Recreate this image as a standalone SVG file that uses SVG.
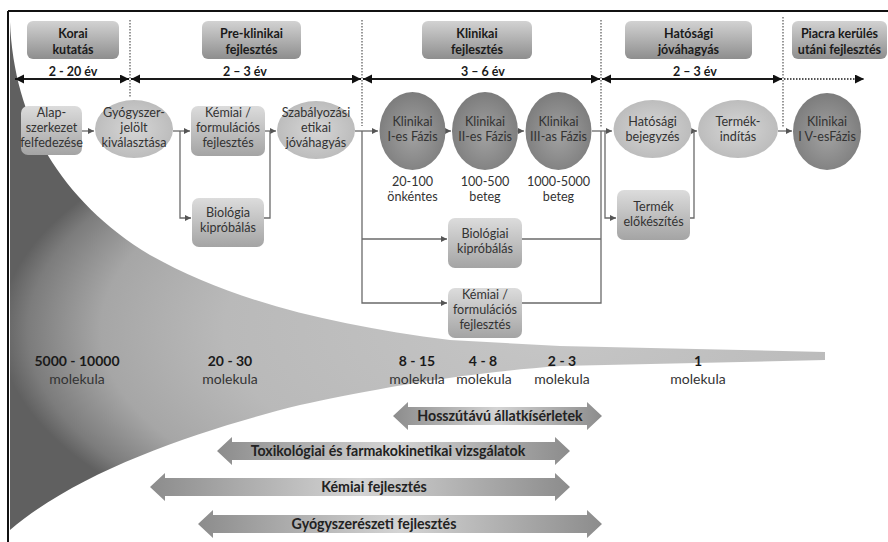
<svg xmlns="http://www.w3.org/2000/svg" width="888" height="542" viewBox="0 0 888 542">
<defs>
  <radialGradient id="gFunnel" gradientUnits="userSpaceOnUse" cx="560" cy="330" r="560" gradientTransform="translate(560 330) scale(1 0.45) translate(-560 -330)">
    <stop offset="0" stop-color="#c6c6c6"/>
    <stop offset="0.6" stop-color="#b9b9b9"/>
    <stop offset="0.82" stop-color="#a6a6a6"/>
    <stop offset="0.95" stop-color="#7c7c7c"/>
    <stop offset="1" stop-color="#606060"/>
  </radialGradient>
  <linearGradient id="gHead" x1="0" y1="0" x2="0" y2="1">
    <stop offset="0" stop-color="#d2d2d2"/>
    <stop offset="1" stop-color="#8e8e8e"/>
  </linearGradient>
  <linearGradient id="gBox" x1="0" y1="0" x2="0" y2="1">
    <stop offset="0" stop-color="#dcdcdc"/>
    <stop offset="1" stop-color="#a4a4a4"/>
  </linearGradient>
  <radialGradient id="gLight" cx="0.5" cy="0.5" r="0.55">
    <stop offset="0" stop-color="#d6d6d6"/>
    <stop offset="1" stop-color="#bababa"/>
  </radialGradient>
  <radialGradient id="gDark" cx="0.5" cy="0.55" r="0.55">
    <stop offset="0" stop-color="#a2a2a2"/>
    <stop offset="1" stop-color="#7c7c7c"/>
  </radialGradient>
  <linearGradient id="gArrow" x1="0" y1="0" x2="1" y2="0">
    <stop offset="0" stop-color="#8c8c8c"/>
    <stop offset="0.5" stop-color="#d4d4d4"/>
    <stop offset="1" stop-color="#8c8c8c"/>
  </linearGradient>
  <marker id="ah" markerUnits="userSpaceOnUse" markerWidth="6" markerHeight="6" refX="6" refY="3" orient="auto">
    <path d="M0,0 L6,3 L0,6 z" fill="#555"/>
  </marker>
  <marker id="th" markerUnits="userSpaceOnUse" markerWidth="10" markerHeight="10" refX="9" refY="4.5" orient="auto-start-reverse">
    <path d="M0,0 L9,4.5 L0,9 z" fill="#111"/>
  </marker>
  <style>
    .hd{fill:url(#gHead)}
    .bx{fill:url(#gBox)}
    .el{fill:url(#gLight)}
    .ed{fill:url(#gDark)}
    .ba{fill:url(#gArrow)}
    text{font-family:Lato,"Liberation Sans",sans-serif;text-anchor:middle}
    .ht{font-size:12.5px;font-weight:bold;fill:#1a1a1a}
    .nt{font-size:12.6px;fill:#333}
    .num{font-size:14px;font-weight:bold;fill:#1a1a1a}
    .mol{font-size:14px;fill:#333}
    .at{font-size:14.2px;font-weight:bold;fill:#222}
    .dot{stroke:#555;stroke-width:1.2;stroke-dasharray:1.5 1.5;fill:none}
    .tl{stroke:#1a1a1a;stroke-width:2;fill:none}
    .cn{stroke:#6a6a6a;stroke-width:1.3;fill:none}
  </style>
</defs>

<!-- funnel -->
<path id="funnel" fill="url(#gFunnel)" d="M10,22 C14,120 60,200 150,255 C230,300 330,325 450,340 L560,346 L825,352 L825,360 L560,366 C450,374 360,392 300,405 C200,430 80,470 10,530 Z"/>

<!-- frame -->
<path d="M8,11 H888 M8,11 V542" stroke="#111" stroke-width="2" fill="none"/>

<!-- phase headers -->
<g id="h-korai"><rect class="hd" x="27" y="21" width="92" height="38" rx="6"/><text class="ht" x="73" y="37.5">Korai</text><text class="ht" x="73" y="53.5">kutatás</text></g>
<g id="h-pre"><rect class="hd" x="202" y="21" width="99" height="38" rx="6"/><text class="ht" x="251.5" y="37.5">Pre-klinikai</text><text class="ht" x="251.5" y="53.5">fejlesztés</text></g>
<g id="h-klin"><rect class="hd" x="422" y="21" width="110" height="38" rx="6"/><text class="ht" x="477" y="37.5">Klinikai</text><text class="ht" x="477" y="53.5">fejlesztés</text></g>
<g id="h-hat"><rect class="hd" x="625" y="21" width="127" height="38" rx="6"/><text class="ht" x="688.5" y="37.5">Hatósági</text><text class="ht" x="688.5" y="53.5">jóváhagyás</text></g>
<g id="h-piac"><rect class="hd" x="792" y="21" width="95" height="38" rx="6"/><text class="ht" x="839.5" y="37.5">Piacra kerülés</text><text class="ht" x="839.5" y="53.5">utáni fejlesztés</text></g>

<!-- dotted separators -->
<g id="separators">
  <path class="dot" d="M130,20 V98"/>
  <path class="dot" d="M362,20 V126"/>
  <path class="dot" d="M601,20 V127"/>
  <path class="dot" d="M783,17 V128"/>
</g>

<!-- timeline -->
<g id="timeline">
  <path class="tl" d="M15,79 H129" marker-start="url(#th)" marker-end="url(#th)"/>
  <path class="tl" d="M131,79 H361" marker-start="url(#th)" marker-end="url(#th)"/>
  <path class="tl" d="M363,79 H600" marker-start="url(#th)" marker-end="url(#th)"/>
  <path class="tl" d="M602,79 H782" marker-start="url(#th)" marker-end="url(#th)"/>
  <path d="M784,79 H864" stroke="#1a1a1a" stroke-width="1.5" stroke-dasharray="1.5 1.5" fill="none" marker-end="url(#th)"/>
  <text class="ht" x="73" y="76">2 - 20 év</text>
  <text class="ht" x="245" y="76">2 – 3 év</text>
  <text class="ht" x="483" y="76">3 – 6 év</text>
  <text class="ht" x="695" y="76">2 – 3 év</text>
</g>

<!-- connectors -->
<g id="connectors">
  <path class="cn" d="M82,131 H94" marker-end="url(#ah)"/>
  <path class="cn" d="M173,131 H190" marker-end="url(#ah)"/>
  <path class="cn" d="M180,131 V218 H191" marker-end="url(#ah)"/>
  <path class="cn" d="M265,131 H276" marker-end="url(#ah)"/>
  <path class="cn" d="M264,218 H270 V131"/>
  <path class="cn" d="M355,131 H378" marker-end="url(#ah)"/>
  <path class="cn" d="M362,131 V303 H447" marker-end="url(#ah)"/>
  <path class="cn" d="M362,239 H447" marker-end="url(#ah)"/>
  <path class="cn" d="M445,131 H451" marker-end="url(#ah)"/>
  <path class="cn" d="M518,131 H524" marker-end="url(#ah)"/>
  <path class="cn" d="M592,131 H612" marker-end="url(#ah)"/>
  <path class="cn" d="M522,239 H601"/>
  <path class="cn" d="M522,303 H601 V131"/>
  <path class="cn" d="M605,131 V218 H616" marker-end="url(#ah)"/>
  <path class="cn" d="M691,131 H697" marker-end="url(#ah)"/>
  <path class="cn" d="M690,218 H694 V131"/>
  <path class="cn" d="M778,131 H792" marker-end="url(#ah)"/>
</g>

<!-- nodes -->
<g id="n-alap"><rect class="bx" x="21" y="106" width="61" height="49" rx="7"/><text class="nt" x="51.5" y="117">Alap-</text><text class="nt" x="51.5" y="132">szerkezet</text><text class="nt" x="51.5" y="147">felfedezése</text></g>
<g id="n-gyogy"><ellipse class="el" cx="134" cy="129" rx="39" ry="29"/><text class="nt" x="134" y="117">Gyógyszer-</text><text class="nt" x="134" y="132">jelölt</text><text class="nt" x="134" y="147">kiválasztása</text></g>
<g id="n-kemiai1"><rect class="bx" x="191" y="106" width="74" height="50" rx="7"/><text class="nt" x="228" y="117">Kémiai /</text><text class="nt" x="228" y="132">formulációs</text><text class="nt" x="228" y="147">fejlesztés</text></g>
<g id="n-biologia"><rect class="bx" x="192" y="198" width="72" height="49" rx="7"/><text class="nt" x="228" y="217">Biológia</text><text class="nt" x="228" y="232">kipróbálás</text></g>
<g id="n-szab"><ellipse class="el" cx="316" cy="130" rx="39" ry="29"/><text class="nt" x="316" y="117">Szabályozási</text><text class="nt" x="316" y="132">etikai</text><text class="nt" x="316" y="147">jóváhagyás</text></g>
<g id="n-k1"><ellipse class="ed" cx="412.5" cy="131" rx="33" ry="39"/><text class="nt" x="412.5" y="126">Klinikai</text><text class="nt" x="412.5" y="141">I-es Fázis</text><text class="nt" x="412.5" y="186">20-100</text><text class="nt" x="412.5" y="201">önkéntes</text></g>
<g id="n-k2"><ellipse class="ed" cx="485" cy="131" rx="33" ry="39"/><text class="nt" x="485" y="126">Klinikai</text><text class="nt" x="485" y="141">II-es Fázis</text><text class="nt" x="485" y="186">100-500</text><text class="nt" x="485" y="201">beteg</text></g>
<g id="n-k3"><ellipse class="ed" cx="558.5" cy="131" rx="33" ry="39"/><text class="nt" x="558.5" y="126">Klinikai</text><text class="nt" x="558.5" y="141">III-as Fázis</text><text class="nt" x="558.5" y="186">1000-5000</text><text class="nt" x="558.5" y="201">beteg</text></g>
<g id="n-biologiai"><rect class="bx" x="448" y="218" width="74" height="50" rx="7"/><text class="nt" x="485" y="238">Biológiai</text><text class="nt" x="485" y="253">kipróbálás</text></g>
<g id="n-kemiai2"><rect class="bx" x="448" y="288" width="74" height="50" rx="7"/><text class="nt" x="485" y="299">Kémiai /</text><text class="nt" x="485" y="314">formulációs</text><text class="nt" x="485" y="329">fejlesztés</text></g>
<g id="n-hat"><ellipse class="el" cx="652.5" cy="129" rx="39" ry="29"/><text class="nt" x="652.5" y="126">Hatósági</text><text class="nt" x="652.5" y="141">bejegyzés</text></g>
<g id="n-termelo"><rect class="bx" x="617" y="190" width="73" height="50" rx="7"/><text class="nt" x="653.5" y="211">Termék</text><text class="nt" x="653.5" y="226">előkészítés</text></g>
<g id="n-termind"><ellipse class="el" cx="738" cy="129" rx="40" ry="29"/><text class="nt" x="738" y="126">Termék-</text><text class="nt" x="738" y="141">indítás</text></g>
<g id="n-k4"><ellipse class="ed" cx="827" cy="131.5" rx="34" ry="38.5"/><text class="nt" x="827" y="126">Klinikai</text><text class="nt" x="827" y="141">I V-esFázis</text></g>

<!-- molecule counts -->
<g id="molecules">
  <text class="num" x="77" y="366">5000 - 10000</text><text class="mol" x="77" y="384">molekula</text>
  <text class="num" x="230" y="366">20 - 30</text><text class="mol" x="230" y="384">molekula</text>
  <text class="num" x="417" y="366">8 - 15</text><text class="mol" x="417" y="384">molekula</text>
  <text class="num" x="483" y="366">4 - 8</text><text class="mol" x="484" y="384">molekula</text>
  <text class="num" x="562" y="366">2 - 3</text><text class="mol" x="562" y="384">molekula</text>
  <text class="num" x="698" y="366">1</text><text class="mol" x="698" y="384">molekula</text>
</g>

<!-- bottom activity arrows -->
<g id="a-hossz"><path class="ba" d="M393,416 L408,402 L408,407 L587,407 L587,402 L602,416 L587,430 L587,425 L408,425 L408,430 Z"/><text class="at" x="500" y="421">Hosszútávú állatkísérletek</text></g>
<g id="a-tox"><path class="ba" d="M217,451 L232,437 L232,442 L555,442 L555,437 L570,451 L555,465 L555,460 L232,460 L232,465 Z"/><text class="at" x="388" y="456">Toxikológiai és farmakokinetikai vizsgálatok</text></g>
<g id="a-kem"><path class="ba" d="M150,487 L165,473 L165,478 L555,478 L555,473 L570,487 L555,501 L555,496 L165,496 L165,501 Z"/><text class="at" x="374" y="492">Kémiai fejlesztés</text></g>
<g id="a-gyogy"><path class="ba" d="M198,524 L213,510 L213,515 L587,515 L587,510 L602,524 L587,538 L587,533 L213,533 L213,538 Z"/><text class="at" x="374" y="529">Gyógyszerészeti fejlesztés</text></g>
</svg>
